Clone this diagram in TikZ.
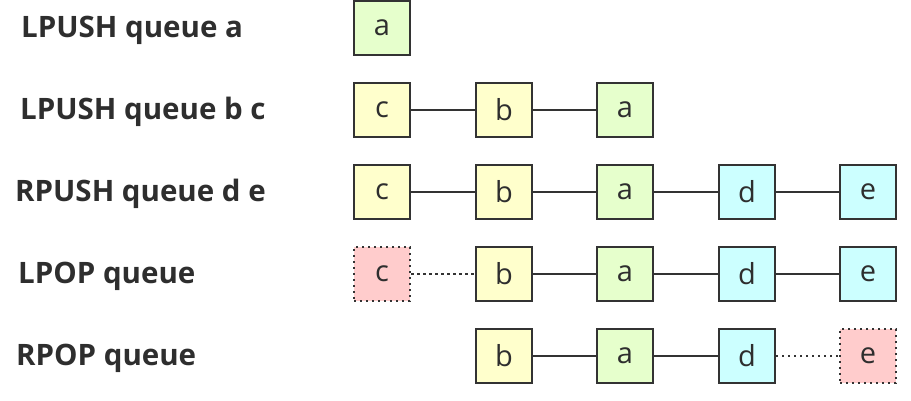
\documentclass[tikz,border=0pt]{standalone}
\usepackage{fontspec}
\setmainfont{Open Sans}
\usetikzlibrary{positioning}
\definecolor{qgreen}{HTML}{E6FFCC}
\definecolor{qyellow}{HTML}{FFFFCC}
\definecolor{qcyan}{HTML}{CCFFFF}
\definecolor{qred}{HTML}{FFCCCC}
\definecolor{qline}{HTML}{333333}
\definecolor{qtext}{HTML}{2E2E2E}

\begin{document}
\begin{tikzpicture}[x=1pt,y=-1pt]
\tikzstyle{every node}+=[inner sep=0pt]
\tikzstyle{cmd}=[anchor=west, text=qtext, font=\fontsize{29.5}{29.5}\selectfont\bfseries]
\tikzstyle{elem}=[draw=qline, line width=2pt, minimum width=56pt, minimum height=54pt, text=qtext, text depth=1pt, font=\fontsize{29}{29}\selectfont]
\tikzstyle{gone}=[elem, fill=qred, line width=2.4pt, dash pattern=on 2.4pt off 3.6pt]
\tikzstyle{link}=[draw=qline, line width=1.6pt]
\tikzstyle{lost}=[link, line width=2.4pt, dash pattern=on 2.4pt off 3.6pt]
\useasboundingbox (0,0) rectangle (911,400);
% LPUSH queue a
\node [cmd] (c1) at (21,30) {LPUSH queue a};
\node [elem, fill=qgreen] (a1) at (382,28) {a};
% LPUSH queue b c
\node [cmd] (c2) at (20,112) {LPUSH queue b c};
\node [elem, fill=qyellow] (c2c) at (382,110) {c};
\node [elem, fill=qyellow] (c2b) at (504,110) {b};
\node [elem, fill=qgreen] (c2a) at (625,110) {a};
\draw [link] (c2c) -- (c2b);
\draw [link] (c2b) -- (c2a);
% RPUSH queue d e
\node [cmd] (c3) at (15,194) {RPUSH queue d e};
\node [elem, fill=qyellow] (c3c) at (382,192) {c};
\node [elem, fill=qyellow] (c3b) at (504,192) {b};
\node [elem, fill=qgreen] (c3a) at (625,192) {a};
\node [elem, fill=qcyan] (c3d) at (747,192) {d};
\node [elem, fill=qcyan] (c3e) at (868,192) {e};
\draw [link] (c3c) -- (c3b);
\draw [link] (c3b) -- (c3a);
\draw [link] (c3a) -- (c3d);
\draw [link] (c3d) -- (c3e);
% LPOP queue
\node [cmd] (c4) at (18,276) {LPOP queue};
\node [gone] (c4c) at (382,274) {c};
\node [elem, fill=qyellow] (c4b) at (504,274) {b};
\node [elem, fill=qgreen] (c4a) at (625,274) {a};
\node [elem, fill=qcyan] (c4d) at (747,274) {d};
\node [elem, fill=qcyan] (c4e) at (868,274) {e};
\draw [lost] (c4c) -- (c4b);
\draw [link] (c4b) -- (c4a);
\draw [link] (c4a) -- (c4d);
\draw [link] (c4d) -- (c4e);
% RPOP queue
\node [cmd] (c5) at (16,358) {RPOP queue};
\node [elem, fill=qyellow] (c5b) at (504,356) {b};
\node [elem, fill=qgreen] (c5a) at (625,356) {a};
\node [elem, fill=qcyan] (c5d) at (747,356) {d};
\node [gone] (c5e) at (868,356) {e};
\draw [link] (c5b) -- (c5a);
\draw [link] (c5a) -- (c5d);
\draw [lost] (c5d) -- (c5e);
\end{tikzpicture}
\end{document}
